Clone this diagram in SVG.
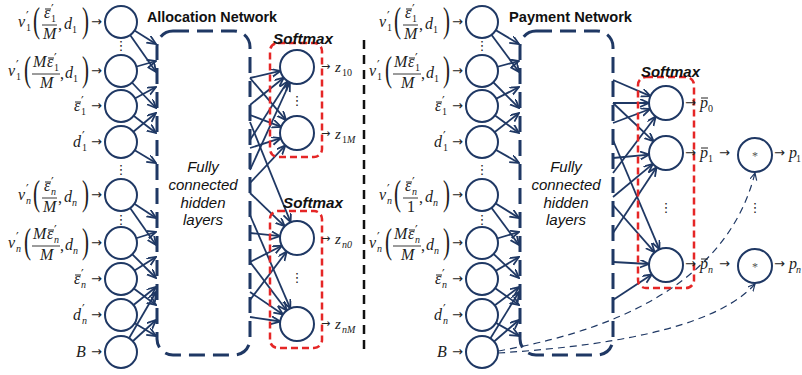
<svg xmlns="http://www.w3.org/2000/svg" xmlns:xlink="http://www.w3.org/1999/xlink" width="802" height="375" viewBox="0 0 802 375">
<style>
.n{fill:#fff;stroke:#1F3864;stroke-width:2}
.c{stroke:#1F3864;stroke-width:1.8;fill:none;marker-end:url(#ah)}
.cv{stroke:#1F3864;stroke-width:1.2;fill:none;stroke-dasharray:7 5;marker-end:url(#ah2)}
.m{font-family:"Liberation Serif",serif;font-style:italic;font-size:16px;fill:#222}
.u{font-family:"Liberation Serif",serif;font-size:16px;fill:#222}
.pr{font-family:"DejaVu Serif",serif;font-size:12px;fill:#222}
.s{font-family:"Liberation Serif",serif;font-size:10px;fill:#222}
.si{font-family:"Liberation Serif",serif;font-style:italic;font-size:10px;fill:#222}
.p{font-family:"Liberation Serif",serif;font-size:35px;fill:#222}
.ar{font-family:"DejaVu Sans",sans-serif;font-size:13px;fill:#222}
.ars{font-family:"DejaVu Sans",sans-serif;font-size:11px;fill:#222}
.dots{font-family:"DejaVu Sans",sans-serif;font-size:13px;fill:#222;text-anchor:middle}
.t{font-family:"Liberation Sans",sans-serif;font-weight:bold;font-size:14px;fill:#111}
.sm{font-family:"Liberation Sans",sans-serif;font-weight:bold;font-style:italic;font-size:15px;fill:#111}
.h{font-family:"Liberation Sans",sans-serif;font-style:italic;font-size:15px;fill:#111;text-anchor:middle}
.box{fill:none;stroke:#1F3864;stroke-width:3;stroke-dasharray:16 8}
.red{fill:none;stroke:#E52626;stroke-width:2.5;stroke-dasharray:7 4}
.fb{stroke:#222;stroke-width:0.9}
.mac{stroke:#222;stroke-width:1}
.mul{font-family:"Liberation Serif",serif;font-size:12px;fill:#555;text-anchor:middle}
</style>
<defs>
<marker id="ah" markerUnits="userSpaceOnUse" markerWidth="10" markerHeight="10" refX="9" refY="4" orient="auto">
<path d="M0,0 L9,4 L0,8" fill="none" stroke="#1F3864" stroke-width="1.8"/>
</marker>
<marker id="ah2" markerUnits="userSpaceOnUse" markerWidth="8" markerHeight="8" refX="7" refY="3.5" orient="auto">
<path d="M0,0 L7,3.5 L0,7" fill="none" stroke="#1F3864" stroke-width="1.2"/>
</marker>
<g id="L1">
<text class="m" x="18" y="5">v</text><text class="pr" x="26" y="-1">′</text><text class="s" x="26" y="9">1</text>
<text class="p" x="33" y="10" textLength="7" lengthAdjust="spacingAndGlyphs">(</text>
<text class="m" x="44" y="-4">ε</text><line class="mac" x1="45" y1="-13" x2="51" y2="-13"/><text class="pr" x="51" y="-8">′</text><text class="s" x="51" y="0">1</text>
<line class="fb" x1="42" y1="3" x2="57" y2="3"/>
<text class="m" x="43" y="17">M</text>
<text class="u" x="58" y="8">,</text><text class="m" x="64" y="7">d</text><text class="s" x="72" y="11">1</text>
<text class="p" x="82" y="10" textLength="7" lengthAdjust="spacingAndGlyphs">)</text>
<text class="ar" x="91" y="4">→</text>
</g>
<g id="L2">
<text class="m" x="8" y="5">v</text><text class="pr" x="16" y="-1">′</text><text class="s" x="16" y="9">1</text>
<text class="p" x="24" y="10" textLength="7" lengthAdjust="spacingAndGlyphs">(</text>
<text class="m" x="33" y="-4">M</text><text class="m" x="47" y="-4">ε</text><line class="mac" x1="48" y1="-13" x2="54" y2="-13"/><text class="pr" x="54" y="-8">′</text><text class="s" x="54" y="0">1</text>
<line class="fb" x1="32" y1="3" x2="60" y2="3"/>
<text class="m" x="40" y="17">M</text>
<text class="u" x="60" y="8">,</text><text class="m" x="65" y="7">d</text><text class="s" x="73" y="11">1</text>
<text class="p" x="82" y="10" textLength="7" lengthAdjust="spacingAndGlyphs">)</text>
<text class="ar" x="91" y="4">→</text>
</g>
<g id="L3">
<text class="m" x="74" y="5">ε</text><line class="mac" x1="75" y1="-4" x2="81" y2="-4"/><text class="pr" x="81" y="0">′</text><text class="s" x="81" y="9">1</text>
<text class="ar" x="91" y="4">→</text>
</g>
<g id="L4">
<text class="m" x="73" y="5">d</text><text class="pr" x="82" y="-1">′</text><text class="s" x="82" y="9">1</text>
<text class="ar" x="91" y="4">→</text>
</g>
<g id="L5">
<text class="m" x="18" y="5">v</text><text class="pr" x="26" y="-1">′</text><text class="si" x="26" y="9">n</text>
<text class="p" x="33" y="10" textLength="7" lengthAdjust="spacingAndGlyphs">(</text>
<text class="m" x="44" y="-4">ε</text><line class="mac" x1="45" y1="-13" x2="51" y2="-13"/><text class="pr" x="51" y="-8">′</text><text class="si" x="51" y="0">n</text>
<line class="fb" x1="42" y1="3" x2="57" y2="3"/>
<text class="m" x="43" y="17">M</text>
<text class="u" x="58" y="8">,</text><text class="m" x="64" y="7">d</text><text class="si" x="72" y="11">n</text>
<text class="p" x="82" y="10" textLength="7" lengthAdjust="spacingAndGlyphs">)</text>
<text class="ar" x="91" y="4">→</text>
</g>
<g id="L5b">
<text class="m" x="18" y="5">v</text><text class="pr" x="26" y="-1">′</text><text class="si" x="26" y="9">n</text>
<text class="p" x="33" y="10" textLength="7" lengthAdjust="spacingAndGlyphs">(</text>
<text class="m" x="44" y="-4">ε</text><line class="mac" x1="45" y1="-13" x2="51" y2="-13"/><text class="pr" x="51" y="-8">′</text><text class="si" x="51" y="0">n</text>
<line class="fb" x1="42" y1="3" x2="57" y2="3"/>
<text class="u" x="46" y="17">1</text>
<text class="u" x="58" y="8">,</text><text class="m" x="64" y="7">d</text><text class="si" x="72" y="11">n</text>
<text class="p" x="82" y="10" textLength="7" lengthAdjust="spacingAndGlyphs">)</text>
<text class="ar" x="91" y="4">→</text>
</g>
<g id="L6">
<text class="m" x="8" y="5">v</text><text class="pr" x="16" y="-1">′</text><text class="si" x="16" y="9">n</text>
<text class="p" x="24" y="10" textLength="7" lengthAdjust="spacingAndGlyphs">(</text>
<text class="m" x="33" y="-4">M</text><text class="m" x="47" y="-4">ε</text><line class="mac" x1="48" y1="-13" x2="54" y2="-13"/><text class="pr" x="54" y="-8">′</text><text class="si" x="54" y="0">n</text>
<line class="fb" x1="32" y1="3" x2="60" y2="3"/>
<text class="m" x="40" y="17">M</text>
<text class="u" x="60" y="8">,</text><text class="m" x="65" y="7">d</text><text class="si" x="73" y="11">n</text>
<text class="p" x="82" y="10" textLength="7" lengthAdjust="spacingAndGlyphs">)</text>
<text class="ar" x="91" y="4">→</text>
</g>
<g id="L7">
<text class="m" x="74" y="5">ε</text><line class="mac" x1="75" y1="-4" x2="81" y2="-4"/><text class="pr" x="81" y="0">′</text><text class="si" x="81" y="9">n</text>
<text class="ar" x="91" y="4">→</text>
</g>
<g id="L8">
<text class="m" x="73" y="5">d</text><text class="pr" x="82" y="-1">′</text><text class="si" x="82" y="9">n</text>
<text class="ar" x="91" y="4">→</text>
</g>
<g id="L9">
<text class="m" x="76" y="5">B</text>
<text class="ar" x="91" y="4">→</text>
</g>
</defs>

<rect width="802" height="375" fill="#fff"/>

<g id="connectors">
<line class="c" x1="121" y1="22" x2="156" y2="44"/>
<line class="c" x1="121" y1="22" x2="156" y2="72"/>
<line class="c" x1="121" y1="71" x2="156" y2="61"/>
<line class="c" x1="121" y1="71" x2="156" y2="108"/>
<line class="c" x1="121" y1="106" x2="156" y2="87"/>
<line class="c" x1="121" y1="106" x2="156" y2="133"/>
<line class="c" x1="121" y1="142" x2="156" y2="113"/>
<line class="c" x1="121" y1="142" x2="156" y2="163"/>
<line class="c" x1="121" y1="195" x2="156" y2="218"/>
<line class="c" x1="121" y1="195" x2="156" y2="245"/>
<line class="c" x1="121" y1="243" x2="156" y2="232"/>
<line class="c" x1="121" y1="243" x2="156" y2="278"/>
<line class="c" x1="121" y1="279" x2="156" y2="257"/>
<line class="c" x1="121" y1="279" x2="156" y2="305"/>
<line class="c" x1="121" y1="315" x2="156" y2="287"/>
<line class="c" x1="121" y1="315" x2="156" y2="336"/>
<line class="c" x1="121" y1="352" x2="156" y2="292"/>
<line class="c" x1="121" y1="352" x2="156" y2="320"/>
<line class="c" x1="250" y1="78" x2="280.5" y2="70.9"/>
<line class="c" x1="250" y1="105" x2="283.8" y2="77.7"/>
<line class="c" x1="250" y1="140" x2="287.8" y2="81.3"/>
<line class="c" x1="250" y1="170" x2="289.9" y2="82.5"/>
<line class="c" x1="250" y1="78" x2="286" y2="120.1"/>
<line class="c" x1="250" y1="115" x2="281.1" y2="126.9"/>
<line class="c" x1="250" y1="148" x2="280.8" y2="138.2"/>
<line class="c" x1="250" y1="183" x2="285.4" y2="145.4"/>
<line class="c" x1="250" y1="122" x2="290.6" y2="222.2"/>
<line class="c" x1="250" y1="193" x2="284.7" y2="226.3"/>
<line class="c" x1="250" y1="233" x2="280.1" y2="236.2"/>
<line class="c" x1="250" y1="262" x2="281.9" y2="245.7"/>
<line class="c" x1="250" y1="300" x2="286.7" y2="251.5"/>
<line class="c" x1="250" y1="215" x2="290.3" y2="308.4"/>
<line class="c" x1="250" y1="262" x2="286.7" y2="310.5"/>
<line class="c" x1="250" y1="292" x2="283" y2="314.4"/>
<line class="c" x1="250" y1="317" x2="280.2" y2="321.5"/>
<line class="c" x1="482" y1="22" x2="519" y2="44"/>
<line class="c" x1="482" y1="22" x2="519" y2="72"/>
<line class="c" x1="482" y1="71" x2="519" y2="61"/>
<line class="c" x1="482" y1="71" x2="519" y2="108"/>
<line class="c" x1="482" y1="106" x2="519" y2="87"/>
<line class="c" x1="482" y1="106" x2="519" y2="133"/>
<line class="c" x1="482" y1="142" x2="519" y2="113"/>
<line class="c" x1="482" y1="142" x2="519" y2="163"/>
<line class="c" x1="482" y1="195" x2="519" y2="218"/>
<line class="c" x1="482" y1="195" x2="519" y2="245"/>
<line class="c" x1="482" y1="243" x2="519" y2="232"/>
<line class="c" x1="482" y1="243" x2="519" y2="278"/>
<line class="c" x1="482" y1="279" x2="519" y2="257"/>
<line class="c" x1="482" y1="279" x2="519" y2="305"/>
<line class="c" x1="482" y1="315" x2="519" y2="287"/>
<line class="c" x1="482" y1="315" x2="519" y2="336"/>
<line class="c" x1="482" y1="352" x2="519" y2="292"/>
<line class="c" x1="482" y1="352" x2="519" y2="320"/>
<line class="c" x1="613" y1="80" x2="650.4" y2="96.2"/>
<line class="c" x1="613" y1="103" x2="649" y2="103"/>
<line class="c" x1="613" y1="123" x2="650.1" y2="109"/>
<line class="c" x1="613" y1="173" x2="655.7" y2="116.5"/>
<line class="c" x1="613" y1="103" x2="653.6" y2="141.3"/>
<line class="c" x1="613" y1="158" x2="649.1" y2="154.6"/>
<line class="c" x1="613" y1="197" x2="652.9" y2="163.9"/>
<line class="c" x1="613" y1="233" x2="656.6" y2="167.2"/>
<line class="c" x1="613" y1="140" x2="659.4" y2="249.4"/>
<line class="c" x1="613" y1="205" x2="654.7" y2="252.3"/>
<line class="c" x1="613" y1="262" x2="649" y2="264"/>
<line class="c" x1="613" y1="300" x2="651.8" y2="274.4"/>
<path class="cv" d="M498,351 Q720,312 755,173"/>
<path class="cv" d="M498,353 Q705,340 755,284"/>
</g>

<line x1="364" y1="40" x2="364" y2="350" stroke="#111" stroke-width="2.5" stroke-dasharray="9 6"/>

<text class="t" x="147" y="22" textLength="130" lengthAdjust="spacingAndGlyphs">Allocation Network</text>
<g id="a_in1"><circle class="n" cx="121" cy="22" r="16"/><use href="#L1" y="22"/></g>
<text class="dots" x="121" y="50">⋮</text>
<g id="a_in2"><circle class="n" cx="121" cy="71" r="16"/><use href="#L2" y="71"/></g>
<g id="a_in3"><circle class="n" cx="121" cy="106" r="16"/><use href="#L3" y="106"/></g>
<g id="a_in4"><circle class="n" cx="121" cy="142" r="16"/><use href="#L4" y="142"/></g>
<text class="dots" x="121" y="174">⋮</text>
<g id="a_in5"><circle class="n" cx="121" cy="195" r="16"/><use href="#L5" y="195"/></g>
<text class="dots" x="121" y="224">⋮</text>
<g id="a_in6"><circle class="n" cx="121" cy="243" r="16"/><use href="#L6" y="243"/></g>
<g id="a_in7"><circle class="n" cx="121" cy="279" r="16"/><use href="#L7" y="279"/></g>
<g id="a_in8"><circle class="n" cx="121" cy="315" r="16"/><use href="#L8" y="315"/></g>
<g id="a_in9"><circle class="n" cx="121" cy="352" r="16"/><use href="#L9" y="352"/></g>
<g id="a_hidden">
<rect class="box" x="157" y="31" width="93" height="324" rx="16"/>
<text class="h" x="203" y="172">Fully</text>
<text class="h" x="203" y="190">connected</text>
<text class="h" x="203" y="208">hidden</text>
<text class="h" x="203" y="225">layers</text>
</g>
<g id="a_softmax1">
<rect class="red" x="270" y="43" width="52" height="114" rx="8"/>
<text class="sm" x="273" y="44" textLength="60" lengthAdjust="spacingAndGlyphs">Softmax</text>
<circle class="n" cx="297" cy="67" r="17"/>
<circle class="n" cx="297" cy="133" r="17"/>
<text class="dots" x="297" y="105">⋮</text>
<text class="ars" x="321" y="70">→</text><text class="m" x="335" y="72" style="font-size:15px">z</text><text class="s" x="342" y="76">10</text>
<text class="ars" x="321" y="137">→</text><text class="m" x="335" y="139" style="font-size:15px">z</text><text class="s" x="342" y="143">1<tspan class="si">M</tspan></text>
</g>
<g id="a_softmax2">
<rect class="red" x="270" y="211" width="52" height="137" rx="8"/>
<text class="sm" x="283" y="208" textLength="60" lengthAdjust="spacingAndGlyphs">Softmax</text>
<circle class="n" cx="297" cy="238" r="17"/>
<circle class="n" cx="297" cy="324" r="17"/>
<text class="dots" x="297" y="282">⋮</text>
<text class="ars" x="321" y="242">→</text><text class="m" x="335" y="244" style="font-size:15px">z</text><text class="si" x="342" y="248">n<tspan class="s">0</tspan></text>
<text class="ars" x="321" y="327">→</text><text class="m" x="335" y="329" style="font-size:15px">z</text><text class="si" x="342" y="333">nM</text>
</g>

<text class="t" x="509" y="22" textLength="123" lengthAdjust="spacingAndGlyphs">Payment Network</text>
<g id="p_in1"><circle class="n" cx="482" cy="22" r="16"/><use href="#L1" x="361" y="22"/></g>
<text class="dots" x="482" y="50">⋮</text>
<g id="p_in2"><circle class="n" cx="482" cy="71" r="16"/><use href="#L2" x="361" y="71"/></g>
<g id="p_in3"><circle class="n" cx="482" cy="106" r="16"/><use href="#L3" x="361" y="106"/></g>
<g id="p_in4"><circle class="n" cx="482" cy="142" r="16"/><use href="#L4" x="361" y="142"/></g>
<text class="dots" x="482" y="174">⋮</text>
<g id="p_in5"><circle class="n" cx="482" cy="195" r="16"/><use href="#L5b" x="361" y="195"/></g>
<text class="dots" x="482" y="224">⋮</text>
<g id="p_in6"><circle class="n" cx="482" cy="243" r="16"/><use href="#L6" x="361" y="243"/></g>
<g id="p_in7"><circle class="n" cx="482" cy="279" r="16"/><use href="#L7" x="361" y="279"/></g>
<g id="p_in8"><circle class="n" cx="482" cy="315" r="16"/><use href="#L8" x="361" y="315"/></g>
<g id="p_in9"><circle class="n" cx="482" cy="352" r="16"/><use href="#L9" x="361" y="352"/></g>
<g id="p_hidden">
<rect class="box" x="520" y="31" width="93" height="324" rx="16"/>
<text class="h" x="566" y="172">Fully</text>
<text class="h" x="566" y="190">connected</text>
<text class="h" x="566" y="208">hidden</text>
<text class="h" x="566" y="225">layers</text>
</g>
<g id="p_softmax">
<rect class="red" x="638" y="77" width="56" height="211" rx="8"/>
<text class="sm" x="641" y="77" textLength="59" lengthAdjust="spacingAndGlyphs">Softmax</text>
<circle class="n" cx="666" cy="103" r="17"/>
<circle class="n" cx="666" cy="153" r="17"/>
<circle class="n" cx="666" cy="265" r="17"/>
<text class="dots" x="666" y="212">⋮</text>
<text class="ar" x="685" y="107">→</text><text class="m" x="700" y="108">p</text><line class="mac" x1="701" y1="98" x2="708" y2="98"/><text class="s" x="708" y="112">0</text>
<text class="ar" x="685" y="157">→</text><text class="m" x="700" y="158">p</text><line class="mac" x1="701" y1="148" x2="708" y2="148"/><text class="s" x="708" y="162">1</text><text class="ar" x="719" y="157">→</text>
<text class="ar" x="685" y="268">→</text><text class="m" x="700" y="269">p</text><line class="mac" x1="701" y1="259" x2="708" y2="259"/><text class="si" x="708" y="273">n</text><text class="ar" x="719" y="268">→</text>
</g>
<g id="p_mul1">
<circle class="n" cx="755" cy="155" r="17"/>
<text class="mul" x="755" y="160">*</text>
<text class="ar" x="774" y="157">→</text><text class="m" x="789" y="158">p</text><text class="s" x="796" y="162">1</text>
</g>
<text class="dots" x="755" y="212">⋮</text>
<g id="p_mul2">
<circle class="n" cx="755" cy="266" r="17"/>
<text class="mul" x="755" y="271">*</text>
<text class="ar" x="774" y="268">→</text><text class="m" x="789" y="269">p</text><text class="si" x="796" y="273">n</text>
</g>
</svg>
